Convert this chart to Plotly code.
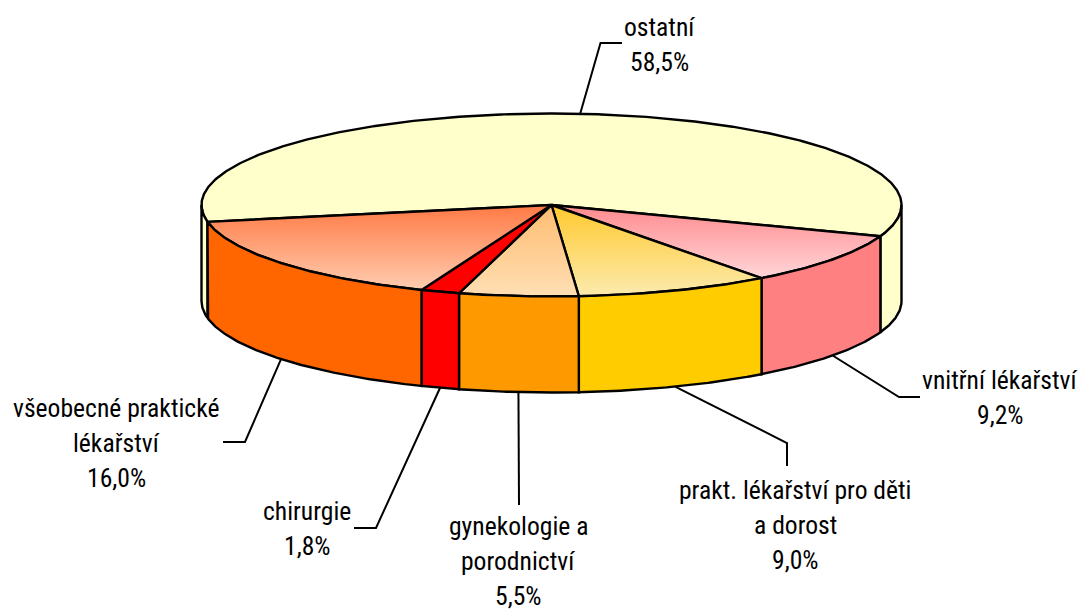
import numpy as np
import plotly.graph_objects as go

# --- data ---
categories = ["ostatní", "vnitřní lékařství", "prakt. lékařství pro děti<br>a dorost",
              "gynekologie a<br>porodnictví", "chirurgie", "všeobecné praktické<br>lékařství"]
values = [58.5, 9.2, 9.0, 5.5, 1.8, 16.0]

# --- styles ---
wall_colors = ["#FFFFCC", "#FF8080", "#FFCC00", "#FF9900", "#FF0000", "#FF6600"]
top_gradients = [("#FFFFCC", "#FFFFCC"), ("#FF8A8E", "#FFD6D8"), ("#FFC92E", "#FCEBAE"),
                 ("#FFBC70", "#FFDFB4"), ("#FF0000", "#FF0000"), ("#FF7A45", "#FFCDB0")]
label_xy = [(659, 44), (1000, 397), (795, 525), (518, 561), (307, 528), (116, 443)]
elbows = [[(600.5, 43), (622, 43)], [(899, 397), (920, 397)], [(787, 443), (787, 466)],
          [(519, 505)], [(376, 528), (354, 528)], [(245, 442), (223, 442)]]

CX, CY, RX, RY, DEPTH = 551.5, 205, 350, 91.5, 96
START = 259.4   # where the first slice begins, clockwise from the back of the pie
FONT = "Roboto Condensed"
FONT_SIZE = 25.6
LINE_STEP = 35


def rim(theta_deg, drop=0.0):
    t = np.radians(theta_deg)
    return CX + RX * np.sin(t), CY - RY * np.cos(t) + drop


edges = START + np.cumsum([0] + [v * 3.6 for v in values])
fig = go.Figure()


def poly(xs, ys, fill):
    kw = dict(x=list(xs), y=list(ys), mode="lines", fill="toself", hoverinfo="skip",
              showlegend=False, line=dict(color="black", width=2.4))
    if fill[0] == fill[1] or isinstance(fill, str):
        kw["fillcolor"] = fill if isinstance(fill, str) else fill[0]
    else:
        kw["fillgradient"] = dict(type="vertical", colorscale=[[0, fill[1]], [1, fill[0]]])
    fig.add_trace(go.Scatter(**kw))


def arc(a, b):
    return np.linspace(a, b, int(abs(b - a)) * 2 + 3)


# top faces
for i in range(len(values)):
    x, y = rim(arc(edges[i], edges[i + 1]))
    poly([CX, *x, CX], [CY, *y, CY], top_gradients[i])


def wall(a, b, color):
    th = arc(a, b)
    x, y = rim(th)
    xb, yb = rim(th, DEPTH)
    poly([*x, *xb[::-1], x[0]], [*y, *yb[::-1], y[0]], color)


# side walls: only the front half (90..270 degrees) is visible
wall(90, edges[1] - 360, wall_colors[0])
wall(edges[0], 270, wall_colors[0])
for i in range(1, len(values)):
    wall(edges[i] - 360, edges[i + 1] - 360, wall_colors[i])

# leader lines start at each slice's mid-angle on the pie rim
for i in range(len(values)):
    mid = (edges[i] + edges[i + 1]) / 2
    sx, sy = rim(mid, 0 if i == 0 else DEPTH)
    pts = [(float(sx), float(sy))] + elbows[i]
    fig.add_trace(go.Scatter(x=[p[0] for p in pts], y=[p[1] for p in pts], mode="lines",
                             hoverinfo="skip", showlegend=False,
                             line=dict(color="black", width=2)))

for c, v, (lx, ly) in zip(categories, values, label_xy):
    pct = f"{v:.1f}".replace(".", ",")
    lines = c.split("<br>") + [f"{pct}%"]
    for k, line in enumerate(lines):
        fig.add_annotation(x=lx, y=ly + (k - (len(lines) - 1) / 2) * LINE_STEP,
                           xref="x", yref="y", showarrow=False, text=line,
                           font=dict(family=FONT, size=FONT_SIZE, color="black"),
                           align="center", xanchor="center", yanchor="middle")

fig.update_layout(width=1082, height=610, margin=dict(l=0, r=0, t=0, b=0),
                  paper_bgcolor="white", plot_bgcolor="white",
                  xaxis=dict(range=[0, 1082], visible=False, fixedrange=True),
                  yaxis=dict(range=[610, 0], visible=False, fixedrange=True))
fig.write_html("out.html", config={"displayModeBar": False},
               post_script="document.body.style.margin='0';document.body.style.overflow='hidden';")
